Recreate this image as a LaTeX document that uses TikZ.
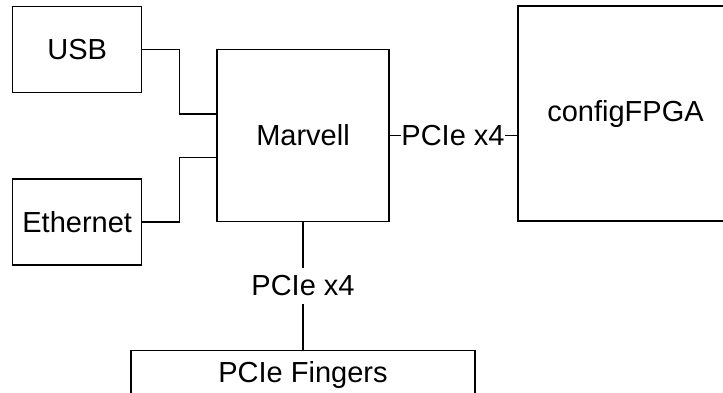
\documentclass[tikz,border=0pt]{standalone}
\usepackage{fontspec}
\setmainfont{Liberation Sans}
\usetikzlibrary{calc}

\begin{document}
\begin{tikzpicture}[x=1pt,y=-1pt,
  every node/.style={font=\fontsize{29}{34}\selectfont},
  unit/.style={draw,line width=1.3pt,inner sep=0pt},
  wire/.style={line width=1.3pt}]
  \useasboundingbox (0,0) rectangle (723,392);
  \node[unit,minimum width=129pt,minimum height=86pt] (usb) at (77.2,49.2) {USB};
  \node[unit,minimum width=129pt,minimum height=86pt] (eth) at (77.2,221.9) {Ethernet};
  \node[unit,minimum width=172pt,minimum height=172pt] (marvell) at (303,135.5) {Marvell};
  \node[unit,minimum width=215pt,minimum height=215pt] (fpga) at (625.5,113.5) {configFPGA};
  \node[unit,minimum width=344pt,minimum height=50pt] (fingers) at (303,375.7) {\raisebox{7pt}{PCIe Fingers}};
  \node[inner sep=0pt] (pcieh) at (453,135.5) {PCIe x4};
  \node[inner xsep=0pt,inner ysep=8pt] (pciev) at (303,286) {PCIe x4};
  \coordinate (usbin) at ($(marvell.west)+(0,-21.5)$);
  \coordinate (ethin) at ($(marvell.west)+(0,21.8)$);
  \draw[wire] (usb.east) -- ++(37,0) |- (usbin);
  \draw[wire] (eth.east) -- ++(37,0) |- (ethin);
  \draw[wire] (marvell.east) -- (pcieh.west);
  \draw[wire] (pcieh.east) -- (pcieh.east -| fpga.west);
  \draw[wire] (marvell.south) -- (pciev.north);
  \draw[wire] (pciev.south) -- (fingers.north);
\end{tikzpicture}
\end{document}
